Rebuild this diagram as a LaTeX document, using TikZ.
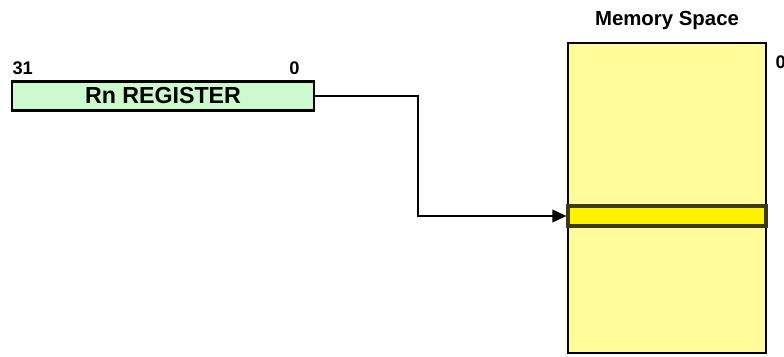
\documentclass[tikz,border=0pt]{standalone}
\usepackage{fontspec}
\setmainfont{Liberation Sans}
\usetikzlibrary{arrows.meta,positioning}

\begin{document}
\begin{tikzpicture}[x=0.025cm, y=-0.025cm,
		reg/.style = {draw, line width=1.6pt, fill={rgb,255:red,204;green,250;blue,204}, minimum width=7.55cm, minimum height=0.725cm, inner sep=0pt, font=\bfseries\fontsize{16.5}{17}\selectfont},
		mem/.style = {draw, line width=1.6pt, fill={rgb,255:red,255;green,252;blue,153}, minimum width=4.95cm, minimum height=7.75cm, inner sep=0pt},
		slot/.style = {draw, line width=2.2pt, draw={rgb,255:red,60;green,60;blue,20}, fill={rgb,255:red,255;green,242;blue,0}, minimum width=4.95cm, minimum height=0.5cm, inner sep=0pt},
		bit/.style = {font=\bfseries\fontsize{13}{13}\selectfont, inner sep=1pt}]
		\useasboundingbox (0,0) rectangle (784,356);
		\node[reg] (rn) at (163,96) {Rn REGISTER};
		\node[bit, above right=3pt and 0pt of rn.north west] (msb) {31};
		\node[bit, above left=3pt and 10pt of rn.north east] (lsb) {0};
		\node[mem] (mem) at (667,198) {};
		\node[slot] (slot) at (667,216) {};
		\node[font=\bfseries\fontsize{14.5}{15}\selectfont, above=5pt of mem.north] (title) {Memory Space};
		\node[bit, anchor=west] (zero) at (774,62) {0};
		\coordinate (turn) at (418,150);
		\draw[line width=1.1pt, -{Triangle[length=10pt, width=9pt]}] (rn.east) -| (turn) |- (slot.west);
	\end{tikzpicture}
\end{document}
